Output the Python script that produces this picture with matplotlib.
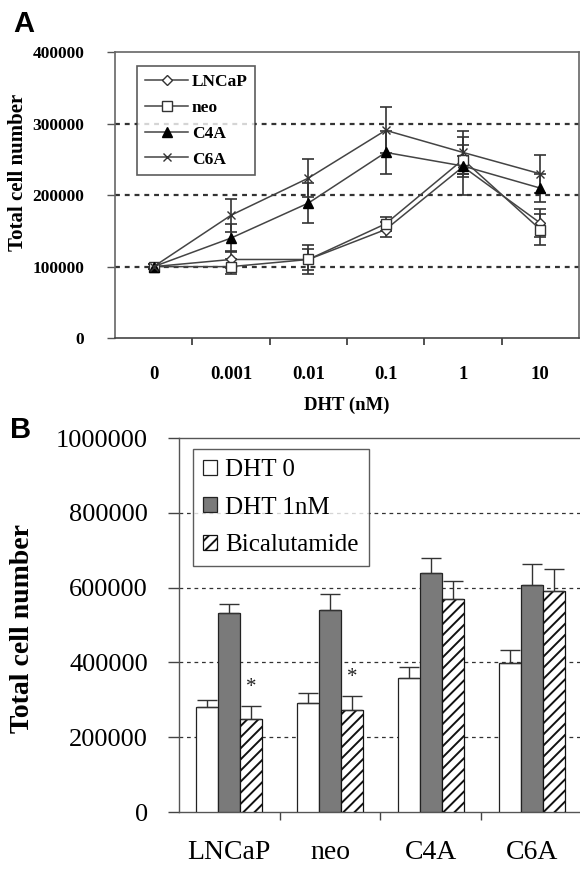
import matplotlib
matplotlib.use("Agg")
import matplotlib.pyplot as plt
import numpy as np

# ---------------- Panel A data ----------------
dht_labels = ["0", "0.001", "0.01", "0.1", "1", "10"]
lncap_vals = [100000, 110000, 110000, 152000, 240000, 161000]
lncap_err = [3000, 12000, 20000, 10000, 15000, 20000]
neo_vals = [100000, 100000, 110000, 160000, 250000, 152000]
neo_err = [3000, 10000, 15000, 10000, 20000, 22000]
c4a_vals = [100000, 140000, 189000, 260000, 241000, 210000]
c4a_err = [3000, 20000, 28000, 30000, 40000, 20000]
c6a_vals = [100000, 172000, 224000, 291000, 260000, 230000]
c6a_err = [3000, 23000, 27000, 32000, 30000, 27000]
a_yticks = [0, 100000, 200000, 300000, 400000]

# ---------------- Panel B data ----------------
cell_lines = ["LNCaP", "neo", "C4A", "C6A"]
dht0_vals = [280000, 291000, 359000, 398000]
dht0_err = [20000, 27000, 30000, 35000]
dht1_vals = [531000, 540000, 638000, 607000]
dht1_err = [25000, 44000, 42000, 55000]
bica_vals = [249000, 274000, 570000, 591000]
bica_err = [34000, 36000, 48000, 58000]
b_yticks = [0, 200000, 400000, 600000, 800000, 1000000]
star_groups = [0, 1]

serif = ["Liberation Serif", "DejaVu Serif"]
plt.rcParams["hatch.linewidth"] = 1.4

fig = plt.figure(figsize=(5.8, 8.71), dpi=100)

# ================= Panel A =================
axA = fig.add_axes([115 / 580, 1 - 338 / 871, 464 / 580, (338 - 52.5) / 871])
x = np.arange(len(dht_labels))
series = [
    ("LNCaP", lncap_vals, lncap_err, dict(marker="D", markersize=5.5, mfc="white", mec="#333333")),
    ("neo", neo_vals, neo_err, dict(marker="s", markersize=7, mfc="white", mec="#333333")),
    ("C4A", c4a_vals, c4a_err, dict(marker="^", markersize=7.5, mfc="black", mec="black")),
    ("C6A", c6a_vals, c6a_err, dict(marker="x", markersize=6, mfc="black", mec="#333333", mew=1.0)),
]
handles = []
for name, vals, err, st in series:
    axA.errorbar(x, vals, yerr=err, fmt="none", elinewidth=1.2,
                 capsize=4, capthick=1.2, ecolor="#333333", zorder=3)
    ln, = axA.plot(x, vals, color="#444444", lw=1.1, label=name, zorder=4, **st)
    handles.append(ln)

axA.set_xlim(-0.5, len(dht_labels) - 0.5)
axA.set_ylim(0, 400000)
axA.set_yticks(a_yticks)
axA.set_yticklabels([str(v) for v in a_yticks], family=serif, fontweight="bold", fontsize=12.5)
axA.set_xticks(x)
axA.set_xticklabels(dht_labels, family=serif, fontweight="bold", fontsize=13.5)
axA.set_xticks(np.arange(0.5, len(dht_labels) - 0.5, 1.0), minor=True)
axA.tick_params(axis="x", which="major", length=0, pad=20)
axA.tick_params(axis="x", which="minor", length=5, width=1.2, color="#333333", direction="out")
axA.tick_params(axis="y", length=6, width=1.0, color="#555555", direction="out", pad=16)
for v in a_yticks[1:-1]:
    axA.axhline(v, color="#333333", lw=1.6, ls=(0, (2.2, 2.2)), zorder=1)
for s in axA.spines.values():
    s.set_color("#666666")
    s.set_linewidth(1.2)
axA.spines["bottom"].set_color("#444444")
axA.set_ylabel("Total cell number", family=serif, fontweight="bold", fontsize=15)
axA.yaxis.set_label_coords((28 - 115) / 464, (338 - 172) / 285.5)
axA.set_xlabel("DHT (nM)", family=serif, fontweight="bold", fontsize=13.5, labelpad=10)
legA = axA.legend(handles=handles, loc="upper left", bbox_to_anchor=(22 / 464, 1 - 14 / 285.5),
                  prop=dict(family=serif, weight="bold", size=12.5),
                  frameon=True, fancybox=False, edgecolor="#333333",
                  handlelength=2.5, handletextpad=0.2, labelspacing=0.55,
                  borderpad=0.45, borderaxespad=0)
legA.get_frame().set_linewidth(1.2)
fig.text(13 / 580, 1 - 10 / 871, "A", family=["Liberation Sans", "DejaVu Sans"],
         fontweight="bold", fontsize=21, va="top", ha="left")

# ================= Panel B =================
axB = fig.add_axes([178.5 / 580, 1 - 812 / 871, 404 / 580, (812 - 438) / 871])
xb = np.arange(len(cell_lines))
w = 0.22
gray = "#7a7a7a"
zeros = [0] * len(cell_lines)
axB.bar(xb - w, dht0_vals, w, color="white", edgecolor="#222222", lw=0.9,
        label="DHT 0", zorder=3)
axB.bar(xb, dht1_vals, w, color=gray, edgecolor="#222222", lw=0.9,
        label="DHT 1nM", zorder=3)
axB.bar(xb + w, bica_vals, w, color="white", edgecolor="#111111", lw=0.9,
        hatch="///", label="Bicalutamide", zorder=3)
for off, vals, err in [(-w, dht0_vals, dht0_err), (0, dht1_vals, dht1_err), (w, bica_vals, bica_err)]:
    axB.errorbar(xb + off, vals, yerr=[zeros, err], fmt="none", ecolor="#333333",
                 elinewidth=1.0, capsize=7, capthick=1.0, zorder=4)
for g in star_groups:
    axB.text(xb[g] + w, bica_vals[g] + bica_err[g] + 25000, "*", ha="center", va="bottom",
             family=serif, fontsize=15, color="#222222")

axB.set_xlim(-0.5, len(cell_lines) - 0.5)
axB.set_ylim(0, 1000000)
axB.set_yticks(b_yticks)
axB.set_yticklabels([str(v) for v in b_yticks], family=serif, fontsize=19)
axB.set_xticks(xb)
axB.set_xticklabels(cell_lines, family=serif, fontsize=20)
axB.set_xticks(np.arange(0.5, len(cell_lines) - 0.5, 1.0), minor=True)
axB.tick_params(axis="x", which="major", length=0, pad=20)
axB.tick_params(axis="x", which="minor", length=6, width=1.0, color="#444444", direction="out")
axB.tick_params(axis="y", length=8, width=1.0, color="#444444", direction="out", pad=14)
for v in b_yticks[1:-1]:
    axB.axhline(v, color="#333333", lw=0.9, ls=(0, (3, 3)), zorder=1)
for s in axB.spines.values():
    s.set_color("#555555")
    s.set_linewidth(1.0)
axB.set_ylabel("Total cell number", family=serif, fontweight="bold", fontsize=20)
axB.yaxis.set_label_coords((35 - 178.5) / 404, 0.49)
legB = axB.legend(loc="upper left", bbox_to_anchor=(14.5 / 404, 1 - 11 / 374),
                  prop=dict(family=serif, size=18),
                  frameon=True, fancybox=False, edgecolor="#333333",
                  handlelength=0.56, handleheight=0.56, handletextpad=0.32,
                  labelspacing=0.62, borderpad=0.4, borderaxespad=0)
legB.get_frame().set_linewidth(1.0)
fig.text(10 / 580, 1 - 416 / 871, "B", family=["Liberation Sans", "DejaVu Sans"],
         fontweight="bold", fontsize=21, va="top", ha="left")

fig.savefig("out.png", dpi=100)
